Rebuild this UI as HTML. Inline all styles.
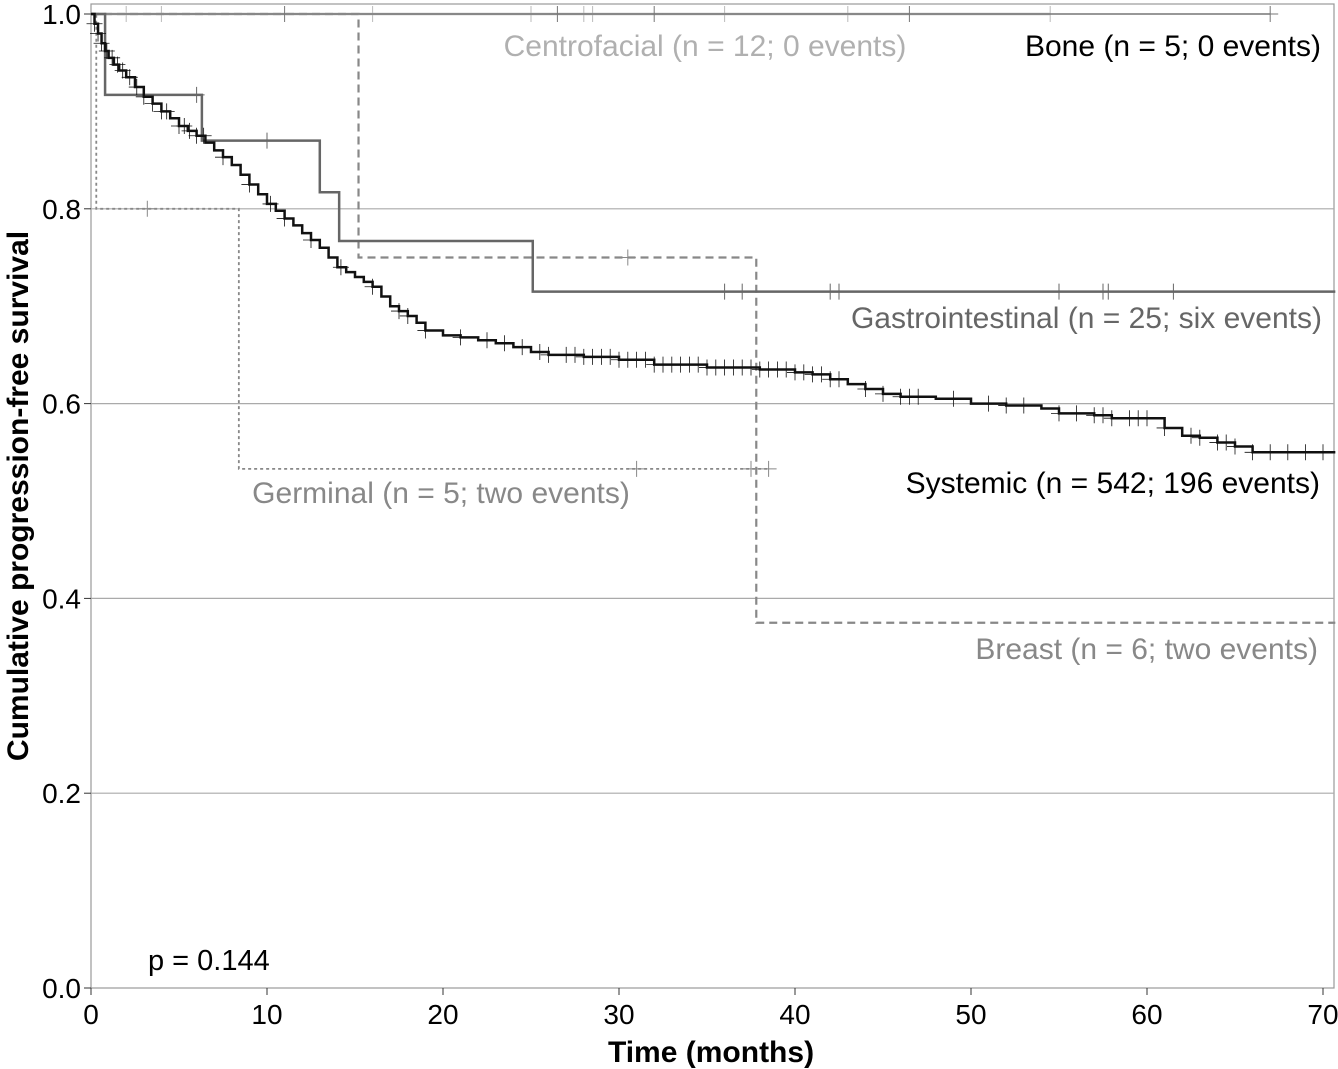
<!DOCTYPE html>
<html><head><meta charset="utf-8"><style>
body{margin:0;background:#fff}
svg{display:block;font-family:"Liberation Sans",sans-serif}
</style></head><body>
<svg id="chart" width="1338" height="1069">
<rect x="91" y="4" width="1243" height="984" fill="#fff" stroke="#999" stroke-width="1.2"/>
<g id="grid"></g>
<g id="curves"></g>
<g id="axes"></g>
<text x="1321" y="56" font-size="30" text-anchor="end" fill="#000">Bone (n = 5; 0 events)</text>
<text x="705" y="56" font-size="30" text-anchor="middle" fill="#b0b0b0">Centrofacial (n = 12; 0 events)</text>
<text x="1322" y="328" font-size="30" text-anchor="end" fill="#666">Gastrointestinal (n = 25; six events)</text>
<text x="1320" y="493" font-size="30" text-anchor="end" fill="#000">Systemic (n = 542; 196 events)</text>
<text x="441" y="503" font-size="30" text-anchor="middle" fill="#888">Germinal (n = 5; two events)</text>
<text x="1318" y="659" font-size="30" text-anchor="end" fill="#888">Breast (n = 6; two events)</text>
<text x="148" y="970" font-size="29" fill="#000">p = 0.144</text>
<text x="711" y="1062" font-size="30" font-weight="bold" text-anchor="middle">Time (months)</text>
<text transform="translate(28,496) rotate(-90)" font-size="30" font-weight="bold" text-anchor="middle">Cumulative progression-free survival</text>
</svg>
<script>
const xTicks=[0,10,20,30,40,50,60,70];
const yTicks=[0,0.2,0.4,0.6,0.8,1.0];
const yTickLabels=["0.0","0.2","0.4","0.6","0.8","1.0"];
const systemicT=[0,0.2,0.4,0.6,0.8,1,1.3,1.6,2,2.5,3,3.5,4,4.5,5,5.5,6,6.5,7,7.5,8,8.5,9,9.5,10,10.5,11,11.5,12,12.5,13,13.5,14,14.5,15,15.5,16,16.5,17,17.5,18,18.5,19,20,21,22,23,24,25,26,28,30,32,35,38,40,41,42,43,44,45,46,48,50,52,54,55,57,58,60,61,62,63,64,65,66,70.7];
const systemicS=[1,0.99,0.98,0.97,0.962,0.955,0.948,0.942,0.935,0.925,0.915,0.908,0.9,0.893,0.885,0.88,0.875,0.868,0.86,0.853,0.845,0.835,0.825,0.815,0.805,0.798,0.79,0.783,0.775,0.768,0.76,0.75,0.74,0.735,0.73,0.725,0.72,0.71,0.70,0.695,0.69,0.683,0.675,0.67,0.668,0.665,0.662,0.658,0.653,0.65,0.648,0.645,0.64,0.637,0.635,0.632,0.63,0.625,0.62,0.615,0.61,0.607,0.605,0.6,0.598,0.595,0.59,0.588,0.585,0.585,0.575,0.567,0.565,0.56,0.556,0.55,0.55];
const systemicCens=[0.2,0.4,0.6,0.9,1.2,1.5,1.8,2.2,2.6,3,3.5,4,4.3,5,5.3,5.6,6,6.4,7.5,9,10.2,11,12.5,14.2,16,17.5,18,19,21,22.5,23.5,24.5,25.5,26,27,27.5,28,28.5,29,29.5,30,30.5,31,31.5,32,32.5,33,33.5,34,34.5,35,35.5,36,36.5,37,37.5,38,38.5,39,39.5,40,40.5,41,41.5,42,42.5,44,45,46,46.5,47,49,51,52,53,55,56,57,57.5,58,59,59.5,60,61,62.5,63,64,64.5,65,66,67,68,69,70];
const giT=[0,0.8,6.3,13,14.1,25.1,70.7];
const giS=[1,0.917,0.87,0.817,0.767,0.715,0.715];
const giCens=[6,10,36,37,42,42.5,55,57.5,57.8,61.5];
const breastT=[0,15.2,37.8,70.7];
const breastS=[1,0.75,0.375,0.375];
const breastCens=[30.5];
const germT=[0,0.3,8.4,38.5];
const germS=[1,0.8,0.533,0.533];
const germCens=[3.2,31,37.5,38.5];
const centroT=[0,54.5];const centroS=[1,1];
const centroCens=[2,4,16,25,28,28.5,36,43,54.5];
const boneT=[0,67];const boneS=[1,1];
const boneCens=[11,26.5,32,46.5,67];
const NS="http://www.w3.org/2000/svg";
const X=t=>91+t*17.6, Y=s=>988-s*974;
function mk(tag,at,parent){const e=document.createElementNS(NS,tag);for(const k in at)e.setAttribute(k,at[k]);parent.appendChild(e);return e;}
const grid=document.getElementById('grid'),axes=document.getElementById('axes'),curves=document.getElementById('curves');
yTicks.forEach((v,i)=>{
 if(v>0&&v<1){const l=mk('line',{x1:91,x2:1334,y1:Y(v),y2:Y(v),stroke:'#aaa','stroke-width':1.2},grid);
 
 }
 const tk=mk('line',{x1:84,x2:91,y1:Y(v),y2:Y(v),stroke:'#333'},axes);
 
 
 const t=mk('text',{x:81,y:Y(v)+10,'font-size':28,'text-anchor':'end'},axes);t.textContent=yTickLabels[i];
 
 
});
xTicks.forEach(v=>{
 const tk=mk('line',{x1:X(v),x2:X(v),y1:988,y2:995,stroke:'#333'},axes);
 
 
 const t=mk('text',{x:X(v),y:1024,'font-size':28,'text-anchor':'middle'},axes);t.textContent=v;
 
 
});
function sAt(T,S,t){let s=S[0];for(let i=0;i<T.length;i++){if(T[i]<=t)s=S[i];}return s;}
function series(name,T,S,C,color,w,dash,cw){
 const g=mk('g',{},curves);
 
 
 let d='M'+X(T[0])+','+Y(S[0]);
 for(let i=1;i<T.length;i++){d+='H'+X(T[i])+'V'+Y(S[i]);}
 const p=mk('path',{d:d,fill:'none',stroke:color,'stroke-width':w},g);
 if(dash)p.setAttribute('stroke-dasharray',dash);
 
 
 C.forEach(t=>{const s=sAt(T,S,t);
  const c=mk('path',{d:'M'+X(t)+','+(Y(s)-8)+'v16M'+(X(t)-8)+','+Y(s)+'h16',stroke:color,'stroke-width':cw||1},g);
  
  });
}
series('centrofacial',centroT,centroS,centroCens,'#bbb',2.5,null);
series('bone',boneT,boneS,boneCens,'#777',1.5,null);
series('germinal',germT,germS,germCens,'#888',1.8,'3,3');
series('breast',breastT,breastS,breastCens,'#888',2.2,'8,5');
series('gastrointestinal',giT,giS,giCens,'#666',2.5,null);
series('systemic',systemicT,systemicS,systemicCens,'#111',2.5,null,0.8);
</script>
</body></html>
